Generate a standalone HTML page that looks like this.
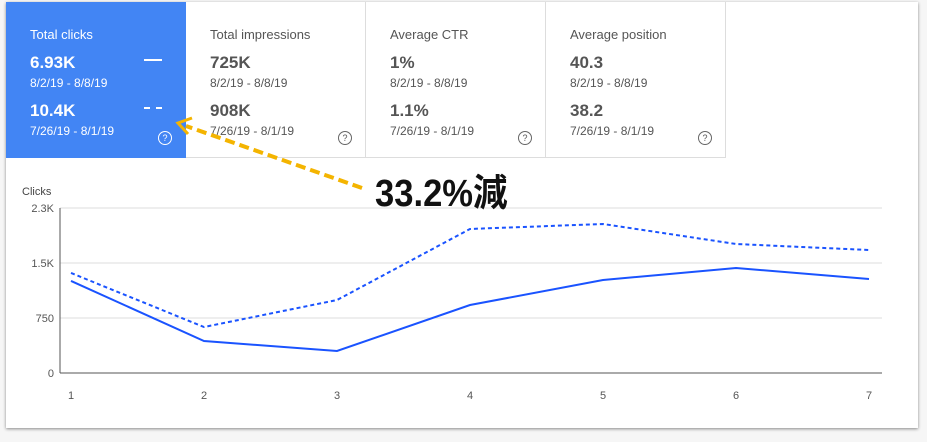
<!DOCTYPE html>
<html><head><meta charset="utf-8"><style>
body{margin:0;width:927px;height:442px;background:#f6f6f6;font-family:"Liberation Sans",sans-serif;position:relative;overflow:hidden}
.card{position:absolute;left:6px;top:2px;width:912px;height:426px;background:#fff;box-shadow:0 1px 3px rgba(0,0,0,.45)}
.tile{position:absolute;top:0;width:180px;height:156px;box-sizing:border-box;border-right:1px solid #ddd;border-bottom:1px solid #ddd;color:#555}
.tile .t{position:absolute;left:24px;top:25px;font-size:13px}
.tile .v{position:absolute;left:24px;font-size:17px;font-weight:bold}
.tile .d{position:absolute;left:24px;font-size:12px}
.q{position:absolute;left:152px;top:129px;width:12px;height:12px;border:1px solid #666;border-radius:50%;font-size:9px;text-align:center;line-height:12px}
.sel{background:#4285f4;color:#fff;border:none}
.sel .q{border-color:#fff}
</style></head><body>
<div class="card">
<div class="tile sel" style="left:0">
<div class="t">Total clicks</div><div class="v" style="top:51px">6.93K</div><div class="d" style="top:74px">8/2/19 - 8/8/19</div>
<div class="v" style="top:99px">10.4K</div><div class="d" style="top:122px">7/26/19 - 8/1/19</div>
<div style="position:absolute;left:138px;top:57px;width:18px;height:2px;background:#fff"></div>
<div style="position:absolute;left:138px;top:105px;width:18px;border-top:2px dashed #fff"></div>
<div class="q">?</div></div>
<div class="tile" style="left:180px">
<div class="t">Total impressions</div><div class="v" style="top:51px">725K</div><div class="d" style="top:74px">8/2/19 - 8/8/19</div>
<div class="v" style="top:99px">908K</div><div class="d" style="top:122px">7/26/19 - 8/1/19</div><div class="q">?</div></div>
<div class="tile" style="left:360px">
<div class="t">Average CTR</div><div class="v" style="top:51px">1%</div><div class="d" style="top:74px">8/2/19 - 8/8/19</div>
<div class="v" style="top:99px">1.1%</div><div class="d" style="top:122px">7/26/19 - 8/1/19</div><div class="q">?</div></div>
<div class="tile" style="left:540px">
<div class="t">Average position</div><div class="v" style="top:51px">40.3</div><div class="d" style="top:74px">8/2/19 - 8/8/19</div>
<div class="v" style="top:99px">38.2</div><div class="d" style="top:122px">7/26/19 - 8/1/19</div><div class="q">?</div></div>
</div>
<svg id="chart" width="927" height="442" style="position:absolute;left:0;top:0"></svg>
<div style="position:absolute;left:375px;top:162px;font-size:38px;font-weight:bold;color:#111;font-family:'Liberation Sans Narrow','Liberation Sans','Noto Sans CJK JP',sans-serif;transform:scaleX(.91);transform-origin:left">33.2%減</div>
<script>
const categories=[1,2,3,4,5,6,7];
const currentClicks=[1255,436,300,927,1268,1432,1282];
const previousClicks=[1364,627,995,1964,2032,1759,1677];
const tickValues=[0,750,1500,2250];
const tickLabels=["0","750","1.5K","2.3K"];
const svg=document.getElementById('chart');const NS='http://www.w3.org/2000/svg';
const x=i=>71+(i-1)*133, y=v=>373-v/2250*165;
function el(t,a){const e=document.createElementNS(NS,t);for(const k in a)e.setAttribute(k,a[k]);svg.appendChild(e);return e;}
tickValues.forEach((v,i)=>{const g=el('line',{x1:60,x2:882,y1:y(v),y2:y(v),stroke:i?'#ddd':'#555'});


const t=el('text',{x:54,y:y(v)+4,'text-anchor':'end','font-size':11,fill:'#555','font-family':'Liberation Sans'});t.textContent=tickLabels[i];

});
const ax=el('line',{x1:60,x2:60,y1:208,y2:373,stroke:'#555'});


const yt=el('text',{x:22,y:195,'font-size':11,fill:'#444','font-family':'Liberation Sans'});yt.textContent='Clicks';


categories.forEach(c=>{const t=el('text',{x:x(c),y:399,'text-anchor':'middle','font-size':11,fill:'#555','font-family':'Liberation Sans'});t.textContent=c;

});
const p1=el('polyline',{points:categories.map((c,i)=>x(c)+','+y(previousClicks[i])).join(' '),fill:'none',stroke:'#1a53ff','stroke-width':2,'stroke-dasharray':'4,3'});


const p2=el('polyline',{points:categories.map((c,i)=>x(c)+','+y(currentClicks[i])).join(' '),fill:'none',stroke:'#1a53ff','stroke-width':2});


const ar=el('line',{x1:362,y1:188,x2:186,y2:126,stroke:'#f4b400','stroke-width':4,'stroke-dasharray':'10,5'});


const hd=el('polyline',{points:'192,118 178,123 188,134',fill:'none',stroke:'#f4b400','stroke-width':3});


</script>
</body></html>
